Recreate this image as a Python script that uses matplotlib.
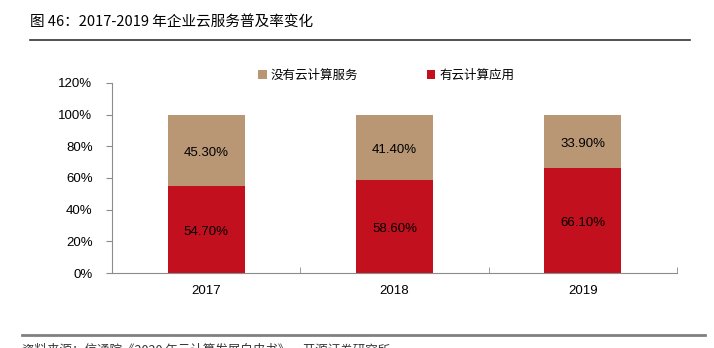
import matplotlib.pyplot as plt
import numpy as np

plt.rcParams['font.family'] = ['Liberation Sans', 'Noto Sans CJK SC', 'DejaVu Sans']

years = ["2017", "2018", "2019"]
with_cloud = [54.70, 58.60, 66.10]      # 有云计算应用
without_cloud = [45.30, 41.40, 33.90]   # 没有云计算服务

red = "#c2101e"
tan = "#b99774"
axis_gray = "#8c8c8c"

fig = plt.figure(figsize=(7.14, 3.48), dpi=100)
ax = fig.add_axes([112 / 714, 1 - 273 / 348, (677 - 112) / 714, (273 - 83) / 348])

x = np.arange(len(years))
width = 0.41

b1 = ax.bar(x, with_cloud, width, color=red, label="有云计算应用")
b2 = ax.bar(x, without_cloud, width, bottom=with_cloud, color=tan, label="没有云计算服务")

for rects, vals in ((b1, with_cloud), (b2, without_cloud)):
    ax.bar_label(rects, labels=[f"{v:.2f}%" for v in vals], label_type="center",
                 fontsize=9.5, color="black", padding=-2)

ax.set_xlim(-0.5, 2.5)
ax.set_ylim(0, 120)
ax.set_yticks(range(0, 121, 20))
ax.set_yticklabels([f"{v}%" for v in range(0, 121, 20)], fontsize=9.5)
ax.set_xticks(x, years, fontsize=9.5)
ax.set_xticks([0.5, 1.5, 2.5], minor=True)
ax.tick_params(axis="x", which="major", length=0, pad=9)
ax.tick_params(axis="x", which="minor", length=4, color=axis_gray, direction="in")
ax.tick_params(axis="y", length=4, color=axis_gray, pad=10)

for side in ("top", "right"):
    ax.spines[side].set_visible(False)
for side in ("left", "bottom"):
    ax.spines[side].set_color(axis_gray)
    ax.spines[side].set_linewidth(0.8)

handles = [b2, b1]
ax.legend(handles, [h.get_label() for h in handles], ncol=2, frameon=False,
          loc="center", bbox_to_anchor=(0.485, 1.04),
          handlelength=0.7, handleheight=0.7, handletextpad=0.3,
          columnspacing=5.5, prop={'family': ['Noto Sans CJK SC'], 'size': 9})

# title and rules
fig.text(30 / 714, 1 - 22 / 348, "图 46：2017-2019 年企业云服务普及率变化",
         fontsize=10.5, va="center", ha="left", family=['Noto Sans CJK SC', 'DejaVu Sans'])
fig.add_artist(plt.Line2D([30 / 714, 690 / 714], [1 - 40 / 348] * 2, color="#333333", lw=1.2))
fig.add_artist(plt.Line2D([22 / 714, 705 / 714], [1 - 335 / 348] * 2, color="#808080", lw=2))
fig.text(22 / 714, 1 - 344 / 348, "资料来源：信通院《2020 年云计算发展白皮书》，开源证券研究所",
         fontsize=9, va="top", ha="left", color="#333333",
         family=['Noto Sans CJK SC', 'DejaVu Sans'])

fig.savefig("out.png", dpi=100)
